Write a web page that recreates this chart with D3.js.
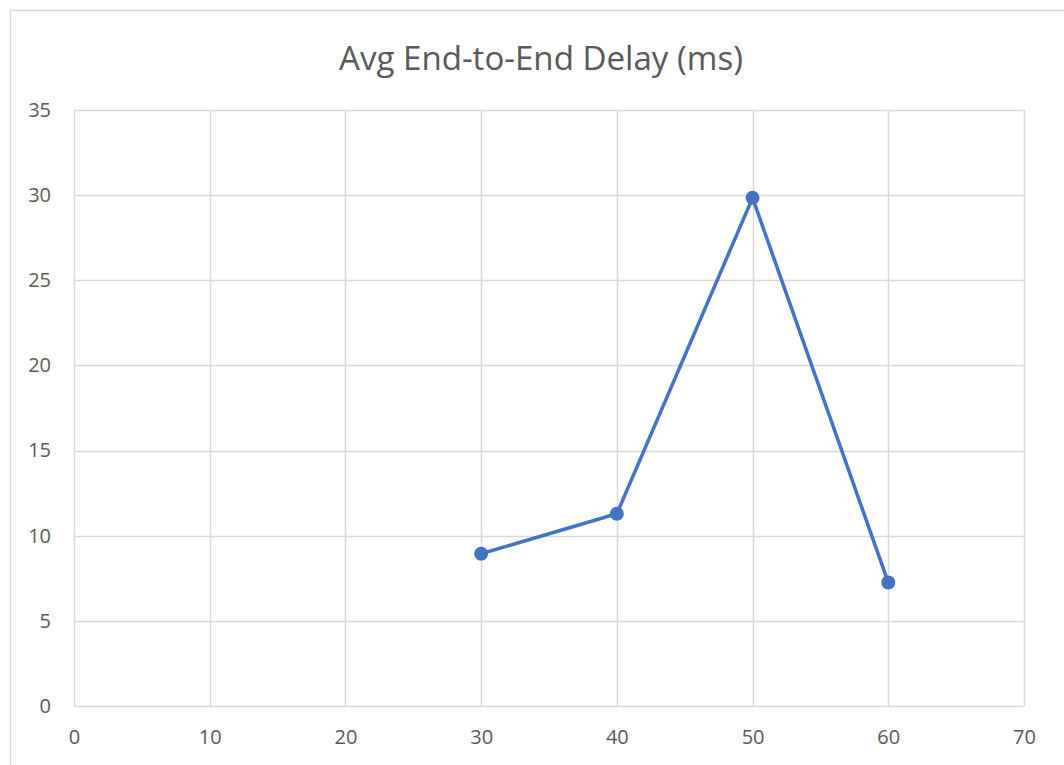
<!DOCTYPE html>
<html lang="en">
<head>
    <meta charset="UTF-8">
    <title>Avg End-to-End Delay (ms)</title>
    <script src="https://d3js.org/d3.v7.min.js"></script>
    <style>
        body {
            margin: 0;
            background: #fff;
            font-family: 'Open Sans', sans-serif;
        }
    </style>
</head>
<body>
    <div id="chart"></div>
    <script>
        const width = 1064;
        const height = 765;

        // Data
        const xValues = [30, 40, 50, 60];
        const delayValues = [8.94, 11.29, 29.84, 7.25];
        const xTicks = [0, 10, 20, 30, 40, 50, 60, 70];
        const yTicks = [0, 5, 10, 15, 20, 25, 30, 35];
        const title = "Avg End-to-End Delay (ms)";

        const margin = {top: 110, left: 74, right: 40, bottom: 59};

        const svg = d3.select("#chart")
            .append("svg")
            .attr("width", width)
            .attr("height", height);

        // chart area border
        svg.append("rect")
            .attr("x", 10.5)
            .attr("y", 10.5)
            .attr("width", width + 20)
            .attr("height", height + 20)
            .attr("fill", "#fff")
            .attr("stroke", "#d9d9d9")
            .attr("stroke-width", 1.5);

        const x = d3.scaleLinear()
            .domain([0, 70])
            .range([margin.left, width - margin.right]);

        const y = d3.scaleLinear()
            .domain([0, 35])
            .range([height - margin.bottom, margin.top]);

        // gridlines
        svg.append("g")
            .selectAll("line")
            .data(yTicks)
            .join("line")
            .attr("x1", x(0))
            .attr("x2", x(70))
            .attr("y1", d => Math.round(y(d)) + 0.5)
            .attr("y2", d => Math.round(y(d)) + 0.5)
            .attr("stroke", "#d9d9d9")
            .attr("stroke-width", 1.5);

        svg.append("g")
            .selectAll("line")
            .data(xTicks)
            .join("line")
            .attr("x1", d => Math.round(x(d)) + 0.5)
            .attr("x2", d => Math.round(x(d)) + 0.5)
            .attr("y1", y(0))
            .attr("y2", y(35))
            .attr("stroke", "#d9d9d9")
            .attr("stroke-width", 1.5);

        // axes (labels only)
        const xAxis = svg.append("g")
            .attr("transform", `translate(0,${y(0)})`)
            .call(d3.axisBottom(x).tickValues(xTicks).tickSize(0).tickPadding(24));
        xAxis.select(".domain").remove();

        const yAxis = svg.append("g")
            .attr("transform", `translate(${x(0)},0)`)
            .call(d3.axisLeft(y).tickValues(yTicks).tickSize(0).tickPadding(23));
        yAxis.select(".domain").remove();

        svg.selectAll(".tick text")
            .attr("font-family", "'Open Sans', sans-serif")
            .attr("font-size", 20)
            .attr("fill", "#595959");

        // title
        svg.append("text")
            .attr("x", 541)
            .attr("y", 70)
            .attr("text-anchor", "middle")
            .attr("fill", "#595959")
            .attr("font-size", "33px")
            .attr("font-family", "'Open Sans', sans-serif")
            .attr("textLength", 404)
            .attr("lengthAdjust", "spacingAndGlyphs")
            .text(title);

        const points = xValues.map((d, i) => ({x: d, y: delayValues[i]}));

        const line = d3.line()
            .x(d => x(d.x))
            .y(d => y(d.y));

        svg.append("path")
            .datum(points)
            .attr("fill", "none")
            .attr("stroke", "#4472c4")
            .attr("stroke-width", 3.5)
            .attr("stroke-linejoin", "round")
            .attr("d", line);

        svg.append("g")
            .selectAll("circle")
            .data(points)
            .join("circle")
            .attr("cx", d => x(d.x))
            .attr("cy", d => y(d.y))
            .attr("r", 7)
            .attr("fill", "#4472c4");
    </script>
</body>
</html>
